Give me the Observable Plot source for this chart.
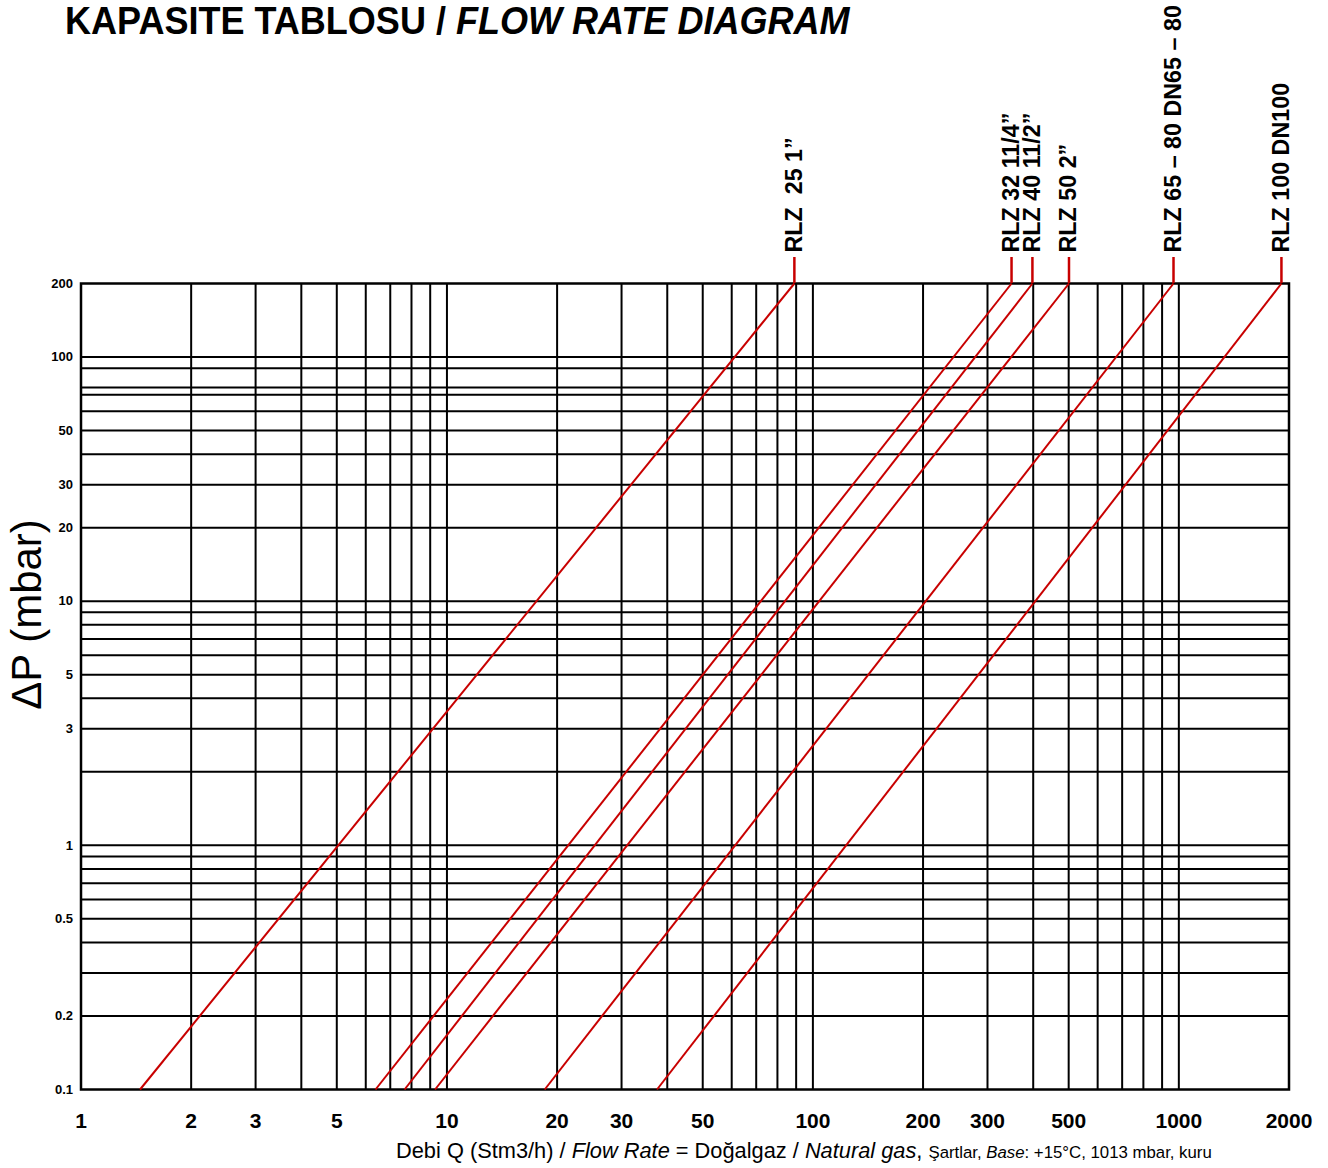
<!DOCTYPE html>
<html>
<head>
<meta charset="utf-8">
<script src="https://cdn.jsdelivr.net/npm/d3@7"></script>
<script src="https://cdn.jsdelivr.net/npm/@observablehq/plot@0.6"></script>
<style>
  body { margin: 0; background: #fff; font-family: "Liberation Sans", Arial, sans-serif; }
  #wrap { position: relative; width: 1328px; height: 1168px; overflow: hidden; }
  #title { position: absolute; left: 65px; top: 2px; font-size: 38px; font-weight: bold; line-height: 38px;
           white-space: nowrap; transform: scaleX(0.948); transform-origin: 0 0; color: #000; }
  #caption { height: 30px; line-height: 26px; padding-left: 396px; font-size: 21.8px; white-space: nowrap; color: #000; }
  #caption .s { font-size: 16.8px; }
  #chart svg { display: block; }
</style>
</head>
<body>
<div id="wrap">
  <div id="chart"></div>
  <div id="caption">Debi Q (Stm3/h) / <i>Flow Rate</i> = Doğalgaz / <i>Natural gas</i>, <span class="s">Şartlar, <i>Base</i>: +15°C, 1013 mbar, kuru</span></div>
  <div id="title">KAPASITE TABLOSU / <i>FLOW RATE DIAGRAM</i></div>
</div>
<script>
// Regulator models and their flow (Stm3/h) at the bottom (0.1 mbar) and top (200 mbar) of the chart
const models = ["RLZ  25 1”", "RLZ 32 11/4”", "RLZ 40 11/2”", "RLZ 50 2”", "RLZ 65 – 80 DN65 – 80", "RLZ 100 DN100"];
const flowAtMinDp = [1.45, 6.38, 7.66, 9.28, 18.5, 37.5];
const flowAtMaxDp = [89, 349, 398, 501, 967, 1907];
const dpMin = 0.1;
const dpMax = 200;

// Axis ticks and grid values
const xTickLabels = [1, 2, 3, 5, 10, 20, 30, 50, 100, 200, 300, 500, 1000, 2000];
const xGrid = [2, 3, 4, 5, 6, 7, 8, 9, 10, 20, 30, 40, 50, 60, 70, 80, 90, 100, 200, 300, 400, 500, 600, 700, 800, 900, 1000];
const yTickLabels = [200, 100, 50, 30, 20, 10, 5, 3, 1, 0.5, 0.2, 0.1];
const yGrid = [0.2, 0.3, 0.4, 0.5, 0.6, 0.7, 0.8, 0.9, 1, 2, 3, 4, 5, 6, 7, 8, 9, 10, 20, 30, 40, 50, 60, 70, 75, 90, 100];

const series = models.map((m, i) => ({model: m, q1: flowAtMinDp[i], q2: flowAtMaxDp[i]}));
const red = "#c80000";

const chart = Plot.plot({
  width: 1328,
  height: 1138,
  marginLeft: 80.5,
  marginRight: 39.5,
  marginTop: 283,
  marginBottom: 49,
  style: {fontFamily: "'Liberation Sans', Arial, sans-serif", background: "#fff", color: "#000"},
  x: {type: "log", domain: [1, 2000], axis: null},
  y: {type: "log", domain: [dpMin, dpMax], axis: null},
  marks: [
    Plot.ruleX(xGrid, {stroke: "#000", strokeWidth: 2}),
    Plot.ruleY(yGrid, {stroke: "#000", strokeWidth: 2}),
    Plot.frame({stroke: "#000", strokeWidth: 2.5}),
    Plot.link(series, {x1: "q1", y1: dpMin, x2: "q2", y2: dpMax, stroke: red, strokeWidth: 2}),
    Plot.ruleX(series, {x: "q2", y1: dpMax, y2: dpMax, insetTop: -26, stroke: red, strokeWidth: 2.5}),
    Plot.text(series, {x: "q2", y: dpMax, text: "model", rotate: -90, textAnchor: "start", lineAnchor: "middle",
      dy: -31, fontSize: 23.3, fontWeight: "bold", fill: "#000"}),
    Plot.text(xTickLabels, {x: d => d, frameAnchor: "bottom", text: d => String(d), dy: 24, lineAnchor: "top",
      fontSize: 21, fontWeight: "bold", fill: "#000"}),
    Plot.text(yTickLabels, {y: d => d, frameAnchor: "left", text: d => String(d), dx: -8, textAnchor: "end",
      fontSize: 13, fontWeight: "bold", fill: "#000"}),
    Plot.text(["ΔP (mbar)"], {frameAnchor: "left", text: d => d, dx: -53.5, dy: -72, rotate: -90,
      textAnchor: "middle", lineAnchor: "middle", fontSize: 42, fill: "#000"})
  ]
});
document.getElementById("chart").appendChild(chart);
</script>
</body>
</html>
